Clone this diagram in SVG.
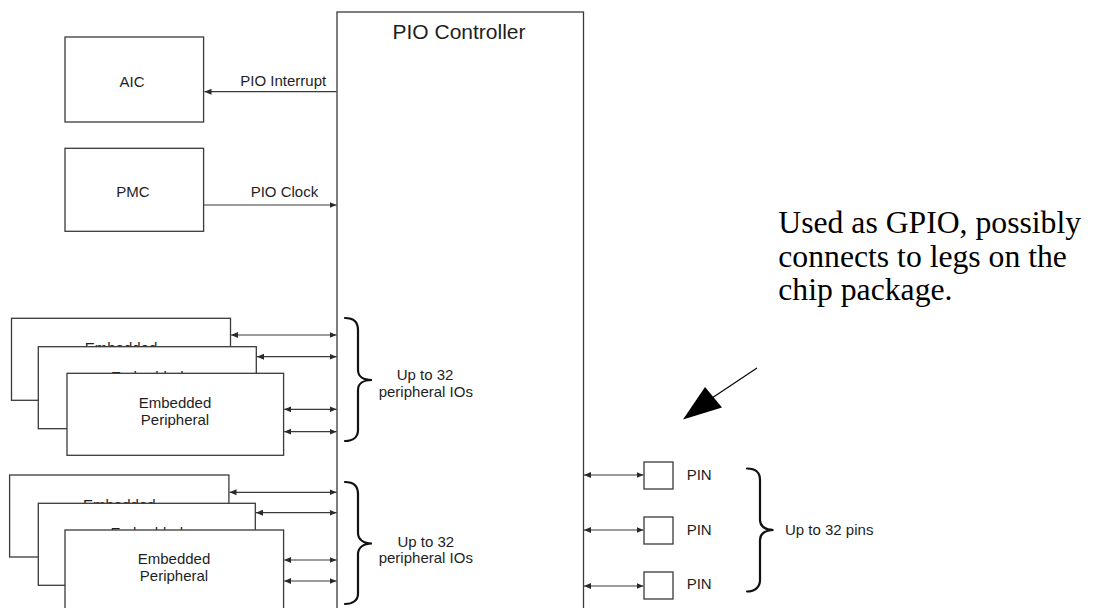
<svg xmlns="http://www.w3.org/2000/svg" width="1093" height="608" viewBox="0 0 1093 608">
  <style>
    .box { fill: #ffffff; stroke: #3a3a3a; stroke-width: 1.3; }
    .lbl { font-family: "Liberation Sans", Arial, sans-serif; font-size: 15px; fill: #1e1e1e; }
    .mid { text-anchor: middle; }
    .title { font-family: "Liberation Sans", Arial, sans-serif; font-size: 21px; fill: #1e1e1e; text-anchor: middle; }
    .note { font-family: "Liberation Serif", "Times New Roman", serif; font-size: 31.7px; fill: #000000; }
    .wire { stroke: #3a3a3a; stroke-width: 1.2; fill: none; }
    .brace { stroke: #111111; stroke-width: 2.2; fill: none; stroke-linecap: round; }
  </style>
  <defs>
    <marker id="ah" markerUnits="userSpaceOnUse" markerWidth="8" markerHeight="7" refX="7" refY="3.5" orient="auto-start-reverse">
      <path d="M0,0.5 L7,3.5 L0,6.5 z" fill="#2a2a2a"/>
    </marker>
  </defs>
  <rect width="1093" height="608" fill="#ffffff"/>

  <g id="pio-controller">
    <rect class="box" x="337" y="12" width="246.5" height="610"/>
    <text class="title" x="459" y="39">PIO Controller</text>
  </g>

  <g id="aic">
    <rect class="box" x="65" y="37" width="138.6" height="85"/>
    <text class="lbl mid" x="132" y="87">AIC</text>
  </g>

  <g id="pmc">
    <rect class="box" x="65" y="148.3" width="138.6" height="83"/>
    <text class="lbl mid" x="133" y="196.5">PMC</text>
  </g>

  <g id="peripherals-a">
    <g id="periph-a1">
      <rect class="box" x="11.5" y="318.3" width="219" height="82"/>
      <text class="lbl mid" x="121" y="353.3">Embedded</text>
    </g>
    <g id="periph-a2">
      <rect class="box" x="38.3" y="346.7" width="218" height="82"/>
      <text class="lbl mid" x="147.3" y="381.7">Embedded</text>
    </g>
    <g id="periph-a3">
      <rect class="box" x="67" y="373.3" width="216.6" height="82"/>
      <text class="lbl mid" x="175" y="408.3">Embedded</text>
      <text class="lbl mid" x="175" y="425">Peripheral</text>
    </g>
  </g>

  <g id="peripherals-b">
    <g id="periph-b1">
      <rect class="box" x="9.6" y="475" width="219.3" height="82"/>
      <text class="lbl mid" x="119.3" y="510">Embedded</text>
    </g>
    <g id="periph-b2">
      <rect class="box" x="38.3" y="503.3" width="217" height="82"/>
      <text class="lbl mid" x="146.8" y="538.3">Embedded</text>
    </g>
    <g id="periph-b3">
      <rect class="box" x="65" y="530" width="218.6" height="90"/>
      <text class="lbl mid" x="174" y="564.3">Embedded</text>
      <text class="lbl mid" x="174" y="581">Peripheral</text>
    </g>
  </g>

  <g id="pins">
    <g id="pin1">
      <rect class="box" x="644" y="462" width="29" height="27"/>
      <text class="lbl" x="686.7" y="479.5">PIN</text>
    </g>
    <g id="pin2">
      <rect class="box" x="644" y="517" width="29" height="27"/>
      <text class="lbl" x="686.7" y="535">PIN</text>
    </g>
    <g id="pin3">
      <rect class="box" x="644" y="572" width="29" height="27"/>
      <text class="lbl" x="686.7" y="589">PIN</text>
    </g>
  </g>

  <g id="connectors">
    <line class="wire" x1="336.5" y1="91.7" x2="204.5" y2="91.7" marker-end="url(#ah)"/>
    <line class="wire" x1="203.6" y1="205" x2="336.5" y2="205" marker-end="url(#ah)"/>

    <line class="wire" x1="231" y1="335" x2="336.5" y2="335" marker-start="url(#ah)" marker-end="url(#ah)"/>
    <line class="wire" x1="257" y1="356.7" x2="336.5" y2="356.7" marker-start="url(#ah)" marker-end="url(#ah)"/>
    <line class="wire" x1="284.2" y1="409.3" x2="336.5" y2="409.3" marker-start="url(#ah)" marker-end="url(#ah)"/>
    <line class="wire" x1="284.2" y1="431.7" x2="336.5" y2="431.7" marker-start="url(#ah)" marker-end="url(#ah)"/>

    <line class="wire" x1="229.5" y1="492.3" x2="336.5" y2="492.3" marker-start="url(#ah)" marker-end="url(#ah)"/>
    <line class="wire" x1="256" y1="512.7" x2="336.5" y2="512.7" marker-start="url(#ah)" marker-end="url(#ah)"/>
    <line class="wire" x1="284.2" y1="560" x2="336.5" y2="560" marker-start="url(#ah)" marker-end="url(#ah)"/>
    <line class="wire" x1="284.2" y1="581" x2="336.5" y2="581" marker-start="url(#ah)" marker-end="url(#ah)"/>

    <line class="wire" x1="584" y1="475" x2="643.5" y2="475" marker-start="url(#ah)" marker-end="url(#ah)"/>
    <line class="wire" x1="584" y1="530" x2="643.5" y2="530" marker-start="url(#ah)" marker-end="url(#ah)"/>
    <line class="wire" x1="584" y1="586" x2="643.5" y2="586" marker-start="url(#ah)" marker-end="url(#ah)"/>

    <line x1="757" y1="368" x2="712" y2="398" stroke="#000000" stroke-width="1.1"/>
    <polygon points="683,419.5 705,387 722,407.5" fill="#000000"/>
  </g>

  <g id="labels">
    <text class="lbl" x="240.3" y="86">PIO Interrupt</text>
    <text class="lbl" x="250.7" y="197">PIO Clock</text>
  </g>

  <g id="brace-a">
    <path class="brace" d="M345,318 C353,318 358,322 358,330 L358,370 C358,376 363,380 372,380 C363,380 358,384 358,390 L358,430 C358,437 353,441 345,441"/>
    <text class="lbl mid" x="425" y="380">Up to 32</text>
    <text class="lbl mid" x="425.8" y="397">peripheral IOs</text>
  </g>

  <g id="brace-b">
    <path class="brace" d="M345,482 C353,482 358,486 358,494 L358,533 C358,539 363,543.5 372,543.5 C363,543.5 358,548 358,554 L358,594 C358,600 353,604 345,604"/>
    <text class="lbl mid" x="425.8" y="546.5">Up to 32</text>
    <text class="lbl mid" x="425.8" y="562.5">peripheral IOs</text>
  </g>

  <g id="brace-pins">
    <path class="brace" d="M747,468.5 C755,468.5 760,472 760,480 L760,520 C760,526 765,530 773.5,530 C765,530 760,534 760,540 L760,580 C760,587 755,591.5 747,591.5"/>
    <text class="lbl" x="785" y="534.5">Up to 32 pins</text>
  </g>

  <g id="note">
    <text class="note" x="778.3" y="233.3">Used as GPIO, possibly</text>
    <text class="note" x="778.3" y="266.7">connects to legs on the</text>
    <text class="note" x="778.3" y="300">chip package.</text>
  </g>
</svg>
